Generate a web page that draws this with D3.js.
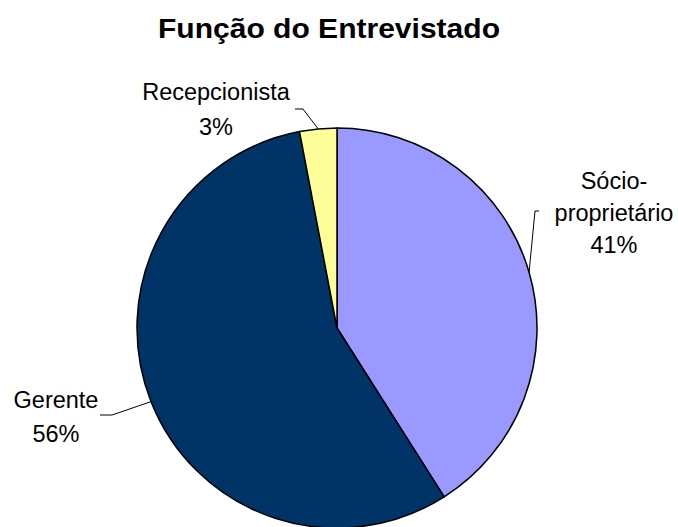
<!DOCTYPE html>
<html><head><meta charset="utf-8">
<script src="https://cdn.jsdelivr.net/npm/d3@7"></script>
<style>body{margin:0;background:#fff}svg{display:block}text{font-family:"Liberation Sans",Arial,sans-serif;fill:#000}</style>
</head><body><svg id="c" width="678" height="527"></svg>
<script>
const title = "Função do Entrevistado";
const categories = ["Sócio-proprietário", "Gerente", "Recepcionista"];
const labelLines = [["Sócio-", "proprietário"], ["Gerente"], ["Recepcionista"]];
const values = [41, 56, 3];
const colors = ["#9999FF", "#003366", "#FFFF99"];

const svg = d3.select("#c");
const cx = 337, cy = 328, R = 200;

svg.append("text").attr("x", 329).attr("y", 38).attr("text-anchor", "middle")
  .attr("textLength", 342).attr("lengthAdjust", "spacingAndGlyphs")
  .style("font-size", "27px").style("font-weight", "bold").text(title);

const pie = d3.pie().sort(null).value(d => d)(values);
const arc = d3.arc().innerRadius(0).outerRadius(R);
const g = svg.append("g").attr("transform", `translate(${cx},${cy})`);
g.selectAll("path").data(pie).join("path")
  .attr("d", arc).attr("fill", (d, i) => colors[i])
  .attr("stroke", "#000").attr("stroke-width", 1.5).attr("stroke-linejoin", "round");

// label layout: text center x, first baseline y, line height, leader elbow
const layout = [
  {x: 614, y: 189, lh: 32, hx: 539, hy: 211, cx2: 535},
  {x: 56, y: 408, lh: 34, hx: 100, hy: 415, cx2: 112},
  {x: 216, y: 100, lh: 35, hx: 295, hy: 109, cx2: 303}
];
const total = d3.sum(values);
pie.forEach((d, i) => {
  const L = layout[i];
  const a = (d.startAngle + d.endAngle) / 2;
  const px = cx + R * Math.sin(a), py = cy - R * Math.cos(a);
  svg.append("polyline")
    .attr("points", `${L.hx},${L.hy} ${L.cx2},${L.hy} ${px},${py}`)
    .attr("fill", "none").attr("stroke", "#000").attr("stroke-width", 1);
  const lines = labelLines[i].concat([Math.round(values[i] / total * 100) + "%"]);
  const t = svg.append("text").attr("text-anchor", "middle").style("font-size", "23.5px");
  lines.forEach((s, k) => t.append("tspan").attr("x", L.x).attr("y", L.y + k * L.lh).text(s));
});
</script></body></html>
